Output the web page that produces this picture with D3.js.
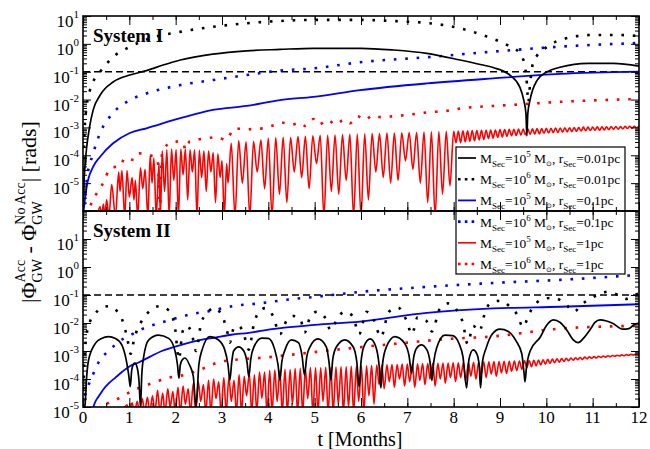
<!DOCTYPE html>
<html>
<head>
<meta charset="utf-8">
<script src="https://cdn.jsdelivr.net/npm/d3@7"></script>
<style>
  body { margin: 0; background: #fff; }
  text { font-family: "Liberation Serif", "Times New Roman", serif; fill: #000; }
</style>
</head>
<body>
<svg id="chart" width="650" height="449"></svg>
<script>
// every series is [t in months, log10 |phi_acc - phi_noacc|]

// ---- System I ----
const s1_m5_r001 = [[0,-6.2],[0.02,-5.0],[0.04,-4.45],[0.08,-3.7],[0.14,-3.0],[0.22,-2.37],[0.37,-1.84],[0.65,-1.37],[1.01,-1.12],[1.37,-0.96],[1.73,-0.76],[2.1,-0.58],[2.8,-0.37],[3.53,-0.25],[4.25,-0.2],[4.97,-0.16],[6.0,-0.16],[6.7,-0.22],[7.42,-0.34],[8.14,-0.58],[8.6,-0.75],[8.85,-0.85],[9.22,-1.13],[9.43,-1.56],[9.51,-2.0],[9.56,-2.5],[9.58,-3.3],[9.6,-2.5],[9.65,-2.0],[9.8,-1.31],[10.0,-1.02],[10.3,-0.84],[10.9,-0.7],[11.45,-0.7],[12,-0.8]]
const s1_m6_r001 = [[0,-6.2],[0.03,-3.3],[0.06,-2.5],[0.1,-2.0],[0.15,-1.66],[0.22,-1.35],[0.37,-1.0],[0.65,-0.47],[1.01,-0.11],[1.38,0.16],[2.09,0.43],[2.8,0.61],[3.53,0.74],[4.25,0.82],[4.96,0.86],[6.0,0.86],[6.69,0.82],[7.42,0.75],[8.14,0.56],[8.72,0.26],[9.15,-0.04],[9.43,-0.34],[9.54,-0.82],[9.58,-1.42],[9.61,-2.1],[9.65,-1.42],[9.71,-0.7],[9.8,-0.42],[9.93,-0.22],[10.3,0.14],[11.0,0.32],[11.5,0.32],[12,0.28]]
const s1_m5_r01 = [[0,-6.2],[0.04,-5.6],[0.08,-5.13],[0.22,-4.41],[0.37,-4.05],[0.65,-3.57],[1.01,-3.2],[1.37,-3.03],[2.1,-2.67],[2.8,-2.37],[3.53,-2.23],[4.25,-2.02],[4.97,-1.9],[5.98,-1.66],[7.42,-1.42],[8.85,-1.24],[10.3,-1.08],[12,-1.0]]
const s1_m6_r01 = [[0,-6.2],[0.04,-5.5],[0.08,-4.89],[0.22,-3.93],[0.37,-3.2],[0.65,-2.48],[1.01,-2.02],[1.37,-1.78],[2.1,-1.48],[2.8,-1.3],[3.53,-1.12],[4.25,-0.96],[4.97,-0.88],[5.98,-0.66],[7.42,-0.48],[8.85,-0.28],[10.3,-0.1],[12,0.03]]
const s1_m5_r1 = [
  [0.3,-6.2],[0.37,-5.85],[0.4,-6.2],[0.44,-5.75],[0.47,-6.2],[0.51,-5.6],[0.56,-6.2],[0.62,-5.05],[0.7,-6.2],[0.77,-4.6],[0.8,-5.3],[0.84,-4.55],[0.9,-6.2],[0.95,-4.55],[1.0,-5.5],[1.06,-4.8],[1.1,-5.6],[1.13,-4.9],[1.18,-6.2],[1.24,-4.45],[1.29,-5.2],[1.34,-4.5],[1.4,-6.2],[1.45,-4.0],[1.49,-5.0],[1.53,-4.1],[1.58,-6.2],[1.64,-4.3],[1.67,-6.2],
  [1.71,-3.85],[1.76,-5.3],[1.81,-3.8],[1.86,-6.2],[1.91,-3.78],[1.96,-4.9],[2.01,-3.8],[2.06,-6.2],[2.11,-3.78],[2.16,-4.7],[2.21,-3.78],[2.26,-5.6],[2.31,-3.8],[2.36,-4.6],[2.41,-3.8],[2.46,-6.2],[2.51,-3.82],[2.56,-4.8],[2.61,-3.85],[2.66,-5.3],[2.71,-3.85],[2.76,-4.6],[2.81,-3.9],[2.86,-5.7],[2.91,-3.95],[2.96,-4.8],[3.0,-4.2],[3.05,-6.2],[3.1,-4.3],[3.13,-5.0],
  [3.2,-3.57],[3.28,-6.2],[3.36,-3.47],[3.44,-5.0],[3.52,-3.52],[3.6,-6.2],[3.68,-3.5],[3.76,-4.6],[3.84,-3.45],[3.92,-5.2],[4.0,-3.38],[4.08,-6.2],[4.16,-3.36],[4.24,-5.4],[4.32,-3.35],[4.4,-5.7],[4.48,-3.36],[4.56,-4.6],[4.64,-3.33],[4.72,-4.8],[4.8,-3.32],[4.88,-5.2],[4.96,-3.3],[5.04,-4.3],[5.12,-3.28],[5.2,-6.2],[5.28,-3.28],[5.36,-5.3],[5.44,-3.27],[5.52,-5.4],[5.6,-3.26],[5.68,-4.9],[5.76,-3.25],[5.84,-6.2],[5.92,-3.24],[6.0,-6.2],[6.08,-3.23],[6.16,-5.6],[6.24,-3.22],[6.32,-4.6],[6.4,-3.22],[6.48,-4.8],[6.56,-3.2],[6.64,-5.0],[6.72,-3.2],[6.8,-4.9],[6.88,-3.19],[6.96,-4.2],[7.04,-3.18],[7.12,-4.5],[7.2,-3.18],[7.28,-5.0],[7.36,-3.17],[7.44,-5.7],[7.52,-3.16],[7.6,-6.2],[7.68,-3.15],[7.76,-5.4],[7.84,-3.14],[7.92,-5.1],[8.0,-3.14],
  [8.05,-3.55],[8.1,-3.13],[8.15,-3.55],[8.2,-3.12],[8.25,-3.52],[8.3,-3.12],[8.35,-3.5],[8.4,-3.11],[8.45,-3.48],[8.5,-3.11],[8.55,-3.45],[8.6,-3.1],[8.65,-3.43],[8.7,-3.1],[8.75,-3.4],[8.8,-3.09],[8.85,-3.38],[8.9,-3.09],[8.95,-3.36],[9.0,-3.08],[9.05,-3.34],[9.1,-3.08],[9.15,-3.32],[9.2,-3.07],[9.25,-3.3],[9.3,-3.07],[9.35,-3.29],[9.4,-3.06],[9.45,-3.28],[9.5,-3.06],[9.55,-3.26],[9.6,-3.05],[9.65,-3.25],[9.7,-3.05],[9.75,-3.24],[9.8,-3.04],[9.85,-3.23],[9.9,-3.04],[9.95,-3.21],[10.0,-3.03],[10.05,-3.2],[10.1,-3.03],[10.15,-3.19],[10.2,-3.02],[10.25,-3.18],[10.3,-3.02],[10.35,-3.17],[10.4,-3.01],[10.45,-3.16],[10.5,-3.01],[10.55,-3.15],[10.6,-3.0],[10.65,-3.14],[10.7,-3.0],[10.75,-3.13],[10.8,-2.99],[10.85,-3.12],[10.9,-2.99],[10.95,-3.11],[11.0,-2.99],[11.05,-3.1],[11.1,-2.98],[11.15,-3.1],[11.2,-2.98],[11.25,-3.09],[11.3,-2.98],[11.35,-3.08],[11.4,-2.97],[11.45,-3.07],[11.5,-2.97],[11.55,-3.06],[11.6,-2.97],[11.65,-3.05],[11.7,-2.96],[11.75,-3.04],[11.8,-2.96],[11.85,-3.03],[11.9,-2.96],[11.95,-3.02],[12.0,-2.95]
]
const s1_m6_r1 = [[0.1,-6.2],[0.19,-5.67],[0.3,-5.36],[0.41,-5.07],[0.6,-4.46],[0.69,-4.42],[0.8,-4.4],[0.9,-4.1],[1.1,-4.17],[1.21,-3.93],[1.42,-4.0],[1.55,-4.05],[1.62,-4.3],[1.66,-6.2],[1.69,-4.2],[1.72,-3.88],[1.92,-3.52],[2.14,-3.5],[2.22,-3.8],[2.3,-3.5],[2.42,-3.45],[2.6,-3.4],[2.9,-3.35],[3.08,-3.45],[3.28,-3.03],[3.5,-3.07],[3.72,-3.05],[3.9,-3.03],[4.1,-2.93],[4.3,-2.83],[4.5,-2.9],[4.69,-2.83],[4.8,-2.95],[4.97,-2.7],[5.08,-2.9],[5.3,-2.73],[5.43,-2.9],[5.65,-2.72],[5.76,-2.85],[5.92,-2.6],[6.1,-2.73],[6.24,-2.57],[6.42,-2.63],[6.7,-2.6],[7.0,-2.55],[7.42,-2.46],[7.87,-2.4],[8.14,-2.32],[8.85,-2.23],[9.57,-2.16],[10.3,-2.08],[11.0,-2.03],[11.95,-1.98]]

// ---- System II ----
const s2_m5_r001 = [[0.0,-5.2],[0.04,-4.99],[0.08,-3.9],[0.12,-3.32],[0.27,-2.72],[0.4,-2.55],[0.55,-2.49],[0.7,-2.55],[0.84,-2.79],[0.93,-3.3],[0.99,-3.9],[1.02,-4.27],[1.05,-3.7],[1.08,-3.5],[1.12,-3.43],[1.17,-3.6],[1.21,-4.1],[1.24,-5.0],[1.27,-3.8],[1.31,-3.2],[1.42,-2.6],[1.63,-2.43],[1.85,-2.55],[1.98,-2.96],[2.04,-3.5],[2.07,-3.97],[2.1,-3.5],[2.14,-3.32],[2.2,-3.25],[2.3,-3.5],[2.38,-3.9],[2.44,-5.0],[2.5,-3.5],[2.57,-2.96],[2.74,-2.49],[2.92,-2.6],[3.06,-2.96],[3.13,-3.5],[3.17,-4.04],[3.21,-3.4],[3.25,-3.0],[3.36,-2.85],[3.47,-3.0],[3.54,-3.4],[3.58,-3.92],[3.62,-3.3],[3.69,-2.85],[3.86,-2.54],[4.0,-2.55],[4.14,-2.96],[4.21,-3.5],[4.25,-4.04],[4.29,-3.4],[4.36,-2.96],[4.5,-2.6],[4.65,-2.7],[4.73,-3.2],[4.78,-3.86],[4.83,-3.2],[4.9,-2.85],[5.07,-2.57],[5.25,-2.85],[5.31,-3.4],[5.35,-4.04],[5.39,-3.3],[5.47,-2.85],[5.65,-2.6],[5.83,-2.85],[5.91,-3.4],[5.96,-4.27],[6.0,-3.4],[6.06,-2.85],[6.2,-2.57],[6.32,-2.85],[6.39,-3.5],[6.43,-4.32],[6.47,-3.4],[6.55,-2.85],[6.73,-2.49],[6.94,-2.72],[7.04,-3.2],[7.09,-3.8],[7.14,-3.2],[7.2,-2.9],[7.3,-2.78],[7.42,-2.95],[7.49,-3.4],[7.53,-4.05],[7.57,-3.4],[7.63,-2.9],[7.81,-2.43],[7.98,-2.45],[8.12,-2.75],[8.2,-3.2],[8.28,-4.32],[8.33,-3.3],[8.42,-2.96],[8.5,-3.1],[8.55,-3.5],[8.58,-4.32],[8.62,-3.4],[8.7,-2.9],[8.83,-2.4],[9.0,-2.22],[9.18,-2.3],[9.35,-2.65],[9.47,-3.1],[9.52,-3.8],[9.54,-4.1],[9.57,-3.6],[9.65,-3.0],[9.87,-2.5],[10.0,-2.1],[10.15,-1.89],[10.3,-1.98],[10.44,-2.25],[10.58,-2.6],[10.69,-2.7],[10.8,-2.55],[10.94,-2.25],[11.05,-1.98],[11.16,-1.89],[11.3,-1.93],[11.44,-2.02],[11.65,-2.22],[11.78,-2.2],[11.9,-2.05],[12,-2.0]]
const s2_m6_r001 = [[0,-5.2],[0.03,-3.3],[0.08,-2.4],[0.15,-1.95],[0.25,-1.7],[0.4,-1.45],[0.56,-1.4],[0.72,-1.55],[0.85,-1.9],[0.95,-2.5],[1.03,-3.1],[1.1,-2.6],[1.18,-2.2],[1.28,-1.9],[1.45,-1.55],[1.65,-1.4],[1.85,-1.55],[1.98,-2.1],[2.07,-3.3],[2.15,-2.3],[2.25,-2.1],[2.35,-2.4],[2.44,-3.0],[2.55,-2.0],[2.7,-1.6],[2.83,-1.45],[3.0,-1.75],[3.1,-2.2],[3.17,-2.7],[3.25,-2.2],[3.36,-2.1],[3.47,-2.4],[3.58,-2.95],[3.68,-2.1],[3.76,-1.7],[3.93,-1.47],[4.1,-1.75],[4.25,-2.4],[4.4,-1.9],[4.55,-1.75],[4.7,-1.9],[4.78,-2.35],[4.9,-1.8],[5.05,-1.6],[5.2,-1.75],[5.35,-2.25],[5.5,-1.8],[5.65,-1.6],[5.82,-1.75],[5.96,-2.4],[6.12,-1.6],[6.28,-1.9],[6.43,-2.5],[6.6,-1.6],[6.8,-1.45],[6.98,-1.9],[7.1,-2.4],[7.22,-1.8],[7.4,-1.9],[7.53,-2.3],[7.7,-1.5],[7.88,-1.3],[8.05,-1.5],[8.2,-2.0],[8.3,-2.75],[8.42,-2.1],[8.55,-2.3],[8.7,-1.5],[8.85,-1.25],[9.03,-1.2],[9.2,-1.4],[9.37,-1.7],[9.5,-2.15],[9.62,-1.7],[9.78,-1.3],[9.93,-1.14],[10.15,-1.1],[10.4,-1.3],[10.6,-1.6],[10.75,-1.35],[10.94,-1.14],[11.15,-0.97],[11.33,-0.88],[11.55,-1.0],[11.74,-1.14],[11.9,-1.0],[12,-0.95]]
const s2_m5_r01 = [[0.2,-5.1],[0.27,-4.8],[0.34,-4.62],[0.45,-4.35],[0.56,-4.15],[0.7,-3.95],[0.84,-3.75],[1.0,-3.55],[1.21,-3.4],[1.45,-3.2],[1.7,-3.0],[2.14,-2.77],[2.5,-2.62],[2.85,-2.52],[3.2,-2.42],[3.58,-2.35],[4.08,-2.22],[5.0,-2.07],[5.98,-1.95],[7.42,-1.64],[8.85,-1.48],[10.3,-1.42],[12,-1.33]]
const s2_m6_r01 = [[0,-5.0],[0.04,-4.6],[0.1,-4.3],[0.2,-3.9],[0.37,-3.3],[0.56,-3.0],[0.7,-2.77],[0.88,-2.55],[1.06,-2.4],[1.27,-2.22],[1.66,-2.0],[1.92,-1.87],[2.35,-1.68],[2.72,-1.58],[3.22,-1.4],[3.8,-1.3],[4.5,-1.15],[5.0,-1.07],[5.98,-0.89],[7.42,-0.71],[8.85,-0.57],[10.3,-0.46],[12,-0.28]]
const s2_m5_r1 = [
  [0.85,-5.2],[0.95,-4.92],[1.0,-5.2],[1.06,-4.85],[1.11,-5.2],[1.17,-4.8],[1.22,-5.2],[1.28,-4.7],[1.33,-5.2],[1.39,-4.65],[1.44,-5.2],[1.5,-4.6],[1.55,-5.2],[1.61,-4.4],[1.66,-5.2],[1.72,-4.5],[1.77,-5.2],[1.83,-4.35],[1.88,-5.0],[1.94,-4.45],[1.99,-5.2],[2.05,-4.3],[2.1,-5.2],[2.16,-4.25],[2.21,-4.9],[2.27,-4.35],[2.32,-5.2],[2.38,-4.15],[2.43,-5.2],[2.49,-4.1],[2.54,-4.8],[2.6,-4.2],[2.65,-5.2],[2.71,-4.05],[2.76,-5.2],[2.82,-4.0],[2.87,-4.7],[2.93,-4.1],[2.98,-5.2],[3.04,-3.95],[3.09,-5.2],[3.15,-3.92],[3.2,-4.8],[3.26,-4.05],[3.31,-5.2],[3.37,-3.85],[3.42,-5.2],[3.48,-3.9],[3.53,-4.6],[3.59,-3.8],[3.64,-5.2],[3.7,-3.85],[3.75,-5.2],[3.81,-3.75],[3.86,-4.7],[3.92,-3.75],[3.97,-5.2],
  [4.03,-3.7],[4.08,-5.2],[4.14,-3.68],[4.19,-4.8],[4.25,-3.7],[4.3,-5.2],[4.36,-3.65],[4.41,-5.2],[4.47,-3.66],[4.52,-4.9],[4.58,-3.63],[4.63,-5.2],[4.69,-3.62],[4.74,-5.2],[4.8,-3.64],[4.85,-4.7],[4.91,-3.6],[4.96,-5.2],[5.02,-3.6],[5.07,-5.2],[5.13,-3.6],[5.18,-4.8],[5.24,-3.58],[5.29,-5.2],[5.35,-3.6],[5.4,-5.2],[5.46,-3.57],[5.51,-4.9],[5.57,-3.56],[5.62,-5.2],[5.68,-3.56],[5.73,-5.0],[5.79,-3.55],[5.84,-5.2],[5.9,-3.55],[5.95,-4.8],[6.01,-3.54],[6.06,-5.2],[6.12,-3.53],[6.17,-4.6],[6.23,-3.52],[6.28,-4.9],
  [6.34,-3.5],[6.39,-4.2],[6.45,-3.5],[6.5,-4.35],[6.56,-3.49],[6.61,-4.1],[6.67,-3.48],[6.72,-4.3],[6.78,-3.48],[6.83,-4.0],[6.89,-3.47],[6.94,-4.25],[7.0,-3.47],[7.05,-4.1],[7.11,-3.46],[7.16,-4.3],[7.22,-3.46],[7.27,-4.05],[7.33,-3.45],[7.38,-4.2],[7.44,-3.45],[7.49,-4.0],[7.55,-3.44],[7.6,-4.25],[7.66,-3.44],[7.71,-4.0],[7.77,-3.43],[7.82,-4.15],[7.88,-3.43],[7.93,-3.95],[7.99,-3.42],[8.04,-4.1],[8.1,-3.42],[8.15,-3.95],[8.21,-3.41],[8.26,-4.05],[8.32,-3.41],[8.37,-3.9],[8.43,-3.4],[8.48,-4.0],[8.54,-3.4],[8.59,-3.85],[8.65,-3.39],[8.7,-3.95],[8.76,-3.39],[8.81,-3.82],[8.87,-3.38],[8.92,-3.9],[8.98,-3.38],[9.03,-3.78],[9.09,-3.37],[9.14,-3.8],[9.2,-3.37],[9.25,-3.72],[9.31,-3.36],[9.36,-3.7],[9.42,-3.36],[9.47,-3.65],
  [9.53,-3.35],[9.58,-3.6],[9.63,-3.34],[9.68,-3.56],[9.73,-3.33],[9.78,-3.53],[9.83,-3.32],[9.88,-3.5],[9.93,-3.31],[9.98,-3.47],[10.03,-3.3],[10.08,-3.44],[10.13,-3.29],[10.18,-3.42],[10.23,-3.28],[10.28,-3.4],[10.33,-3.27],[10.38,-3.37],[10.43,-3.26],[10.48,-3.35],[10.53,-3.25],[10.58,-3.33],[10.63,-3.24],[10.68,-3.31],[10.73,-3.23],[10.78,-3.3],[10.83,-3.22],[10.88,-3.28],[10.93,-3.21],[10.98,-3.26],[11.03,-3.2],[11.08,-3.25],[11.13,-3.19],[11.18,-3.23],[11.23,-3.18],[11.28,-3.22],[11.33,-3.17],[11.38,-3.2],[11.43,-3.16],[11.48,-3.19],[11.53,-3.15],[11.58,-3.18],[11.63,-3.14],[11.68,-3.17],[11.73,-3.13],[11.78,-3.15],[11.83,-3.12],[11.88,-3.14],[11.93,-3.11],[12.0,-3.1]
]
const s2_m6_r1 = [[0.35,-5.2],[0.45,-5.0],[0.55,-4.85],[0.7,-4.75],[0.9,-4.57],[1.1,-4.4],[1.49,-4.15],[1.86,-3.95],[2.2,-3.85],[2.63,-3.6],[2.93,-3.4],[3.37,-3.3],[3.8,-3.25],[4.94,-3.05],[5.94,-2.87],[7.0,-2.7],[7.8,-2.58],[8.85,-2.48],[10.3,-2.2],[12,-2.1]]

// axis + legend text
const monthTicks = [0,1,2,3,4,5,6,7,8,9,10,11,12]
const decadeLabels = [-5,-4,-3,-2,-1,0,1]
const panelTitles = ['System I', 'System II']
const referenceLevel = 0.1
const legendMass = ['5','6','5','6','5','6']
const legendRadius = ['0.01','0.01','0.1','0.1','1','1']

// legend order: (1e5,0.01) (1e6,0.01) (1e5,0.1) (1e6,0.1) (1e5,1) (1e6,1)
const seriesStyle = [
  {color: '#000', dotted: false, width: 1.7},
  {color: '#000', dotted: true},
  {color: '#0000ff', dotted: false, width: 1.8},
  {color: '#0000ff', dotted: true},
  {color: '#ff0000', dotted: false, width: 1.6},
  {color: '#ff0000', dotted: true}
]

const panels = [
  {title: panelTitles[0], domain: [1e-6, 1e1], top: 16, bottom: 211,
   series: [s1_m5_r001, s1_m6_r001, s1_m5_r01, s1_m6_r01, s1_m5_r1, s1_m6_r1]},
  {title: panelTitles[1], domain: [1e-5, 1e2], top: 211, bottom: 407,
   series: [s2_m5_r001, s2_m6_r001, s2_m5_r01, s2_m6_r01, s2_m5_r1, s2_m6_r1]}
]

const svg = d3.select('#chart')
const x = d3.scaleLinear().domain([0, 12]).range([83, 639])
const halfMonths = d3.range(0, 12.01, 0.5)

const curveLayer = svg.append('g')
const legendLayer = svg.append('g')
const axisLayer = svg.append('g')

panels.forEach((p, pi) => {
  const y = d3.scaleLog().domain(p.domain).range([p.bottom, p.top])

  svg.append('clipPath').attr('id', 'clip' + pi)
    .append('rect')
    .attr('x', x(0)).attr('y', p.top)
    .attr('width', x(12) - x(0)).attr('height', p.bottom - p.top)

  const g = curveLayer.append('g').attr('clip-path', 'url(#clip' + pi + ')')

  const line = d3.line()
    .x(d => x(d[0]))
    .y(d => y(Math.pow(10, d[1])))
    .curve(d3.curveMonotoneX)

  // dashed 0.1 rad reference
  g.append('path')
    .attr('d', d3.line()([[x(0), y(referenceLevel)], [x(12), y(referenceLevel)]]))
    .attr('stroke', '#000').attr('stroke-width', 1.5)
    .attr('stroke-dasharray', '7,4').attr('fill', 'none')

  // red first, black last (as in the original)
  const drawOrder = [4, 5, 2, 3, 0, 1]
  drawOrder.forEach(k => {
    const st = seriesStyle[k]
    const path = g.append('path')
      .datum(p.series[k])
      .attr('d', line)
      .attr('fill', 'none')
      .attr('stroke', st.color)
    if (st.dotted) {
      path.attr('stroke-width', 2.6).attr('stroke-dasharray', '2.6,8.8')
    } else {
      path.attr('stroke-width', st.width).attr('stroke-linejoin', 'round')
    }
  })

  g.append('text')
    .attr('x', 93).attr('y', p.top + 26)
    .attr('font-size', 19).attr('font-weight', 'bold')
    .text(p.title)

  // frame + ticks, all pointing inwards
  const ag = axisLayer.append('g')
  const majors = d3.range(Math.log10(p.domain[0]), Math.log10(p.domain[1]) + 0.5).map(e => Math.pow(10, e))
  const minors = []
  majors.slice(0, -1).forEach(m => { for (let k = 2; k < 10; k++) minors.push(m * k) })

  ;[x(0), x(12)].forEach((px, i) => {
    const mk = () => i === 0 ? d3.axisLeft(y) : d3.axisRight(y)
    ag.append('g').attr('transform', `translate(${px},0)`)
      .call(mk().tickValues(majors).tickSize(-8).tickFormat(''))
    ag.append('g').attr('transform', `translate(${px},0)`)
      .call(mk().tickValues(minors).tickSize(-4).tickFormat(''))
  })
  ;[p.top, p.bottom].forEach((py, i) => {
    const mk = () => i === 0 ? d3.axisTop(x) : d3.axisBottom(x)
    ag.append('g').attr('transform', `translate(0,${py})`)
      .call(mk().tickValues(halfMonths).tickSize(-4).tickFormat(''))
    ag.append('g').attr('transform', `translate(0,${py})`)
      .call(mk().tickValues(monthTicks).tickSize(-9).tickFormat(''))
  })
  ag.selectAll('.domain').remove()
  ag.selectAll('line').attr('stroke', '#000').attr('stroke-width', 1)

  ag.append('rect')
    .attr('x', x(0)).attr('y', p.top)
    .attr('width', x(12) - x(0)).attr('height', p.bottom - p.top)
    .attr('fill', 'none').attr('stroke', '#000').attr('stroke-width', 1.6)

  // decade labels 10^n
  decadeLabels.forEach(e => {
    const t = ag.append('text')
      .attr('x', 79).attr('y', y(Math.pow(10, e)) + 11)
      .attr('text-anchor', 'end').attr('font-size', 17)
    t.append('tspan').text('10')
    t.append('tspan').attr('font-size', 11).attr('dy', -9).text(e)
  })
})

// month labels
axisLayer.selectAll('.mlab')
  .data(monthTicks)
  .enter().append('text')
  .attr('class', 'mlab')
  .attr('x', d => x(d)).attr('y', 423)
  .attr('text-anchor', 'middle').attr('font-size', 17)
  .text(d => d)

axisLayer.append('text')
  .attr('x', 360).attr('y', 446)
  .attr('text-anchor', 'middle').attr('font-size', 20)
  .text('t [Months]')

// y title with stacked super/subscripts
const yt = axisLayer.append('text')
  .attr('transform', 'translate(36,212) rotate(-90)')
  .attr('text-anchor', 'middle').attr('font-size', 22)
function stack(sup, sub) {
  const a = yt.append('tspan').attr('font-size', 14).attr('dy', -11).text(sup)
  const wa = a.node().getComputedTextLength()
  const b = yt.append('tspan').attr('font-size', 14).attr('dx', -wa).attr('dy', 17).text(sub)
  const wb = b.node().getComputedTextLength()
  return {shift: Math.max(0, wa - wb), back: -6}
}
yt.append('tspan').text('|Φ')
let s = stack('Acc', 'GW')
yt.append('tspan').attr('dx', s.shift).attr('dy', s.back).text(' - Φ')
s = stack('No Acc', 'GW')
yt.append('tspan').attr('dx', s.shift).attr('dy', s.back).text('| [rads]')

// legend
const lg = legendLayer.append('g')
lg.append('rect')
  .attr('x', 456).attr('y', 147).attr('width', 169).attr('height', 127)
  .attr('fill', '#fff').attr('stroke', '#000').attr('stroke-width', 1.2)
seriesStyle.forEach((st, i) => {
  const cy = 158 + i * 21.2
  const l = lg.append('line')
    .attr('x1', 458).attr('x2', 476).attr('y1', cy).attr('y2', cy)
    .attr('stroke', st.color)
  if (st.dotted) l.attr('stroke-width', 2.6).attr('stroke-dasharray', '2.6,4.2')
  else l.attr('stroke-width', st.width)
  const t = lg.append('text').attr('x', 480).attr('y', cy + 5).attr('font-size', 13.5)
  t.append('tspan').text('M')
  t.append('tspan').attr('font-size', 9).attr('dy', 4).text('Sec')
  t.append('tspan').attr('dy', -4).text('=10')
  t.append('tspan').attr('font-size', 9).attr('dy', -6).text(legendMass[i])
  t.append('tspan').attr('dy', 6).text(' M')
  t.append('tspan').attr('font-size', 7).attr('dy', 3).text('⊙')
  t.append('tspan').attr('dy', -3).text(', r')
  t.append('tspan').attr('font-size', 9).attr('dy', 4).text('Sec')
  t.append('tspan').attr('dy', -4).text('=' + legendRadius[i] + 'pc')
})
</script>
</body>
</html>
